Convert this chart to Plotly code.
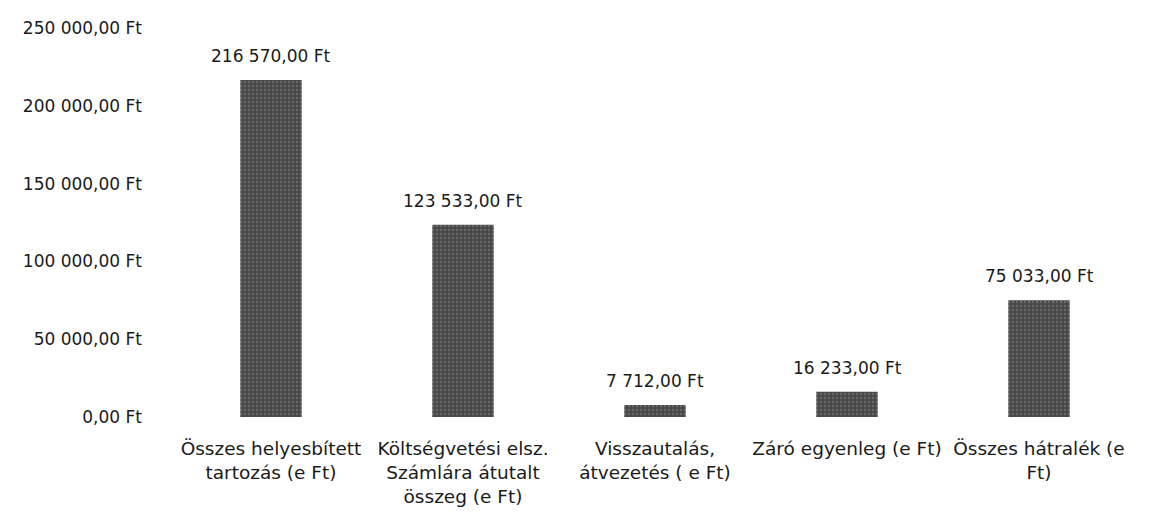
import plotly.graph_objects as go

categories = [
    "Összes helyesbített<br>tartozás (e Ft)",
    "Költségvetési elsz.<br>Számlára átutalt<br>összeg (e Ft)",
    "Visszautalás,<br>átvezetés ( e Ft)",
    "Záró egyenleg (e Ft)",
    "Összes hátralék (e<br>Ft)",
]
values = [216570, 123533, 7712, 16233, 75033]
tick_vals = [0, 50000, 100000, 150000, 200000, 250000]


def huf(v):
    s = f"{v:,.2f}".replace(",", " ").replace(".", ",")
    return s + " Ft"


tick_text = [huf(v) for v in tick_vals]
labels = [huf(v) for v in values]

FONT = "'DejaVu Sans', sans-serif"

fig = go.Figure()
fig.add_trace(go.Bar(
    x=categories,
    y=values,
    width=0.32,
    marker=dict(
        color="#4a4a4a",
        line=dict(width=0),
        pattern=dict(shape=".", fgcolor="#a0a0a0", size=4, solidity=0.18),
    ),
    hoverinfo="skip",
))

for c, v, t in zip(categories, values, labels):
    fig.add_annotation(x=c, y=v, text=t, showarrow=False, yanchor="bottom",
                       yshift=12, font=dict(size=17, color="#1a1a1a", family=FONT))

fig.update_layout(
    width=1158, height=522,
    margin=dict(l=167, r=31, t=20, b=113, autoexpand=False),
    paper_bgcolor="white", plot_bgcolor="white",
    showlegend=False,
    font=dict(family=FONT, size=17, color="#1a1a1a"),
)
fig.update_yaxes(range=[0, 250000], tickvals=tick_vals, ticktext=tick_text,
                 showgrid=False, zeroline=False, showline=False, automargin=False,
                 ticks="", ticklabelstandoff=32, tickfont=dict(size=17))
fig.update_xaxes(range=[-0.5, 4.5], showgrid=False, showline=False, ticks="",
                 tickangle=0, automargin=False, ticklabelstandoff=18,
                 tickfont=dict(size=18.5))

fig.write_html("out.html")
